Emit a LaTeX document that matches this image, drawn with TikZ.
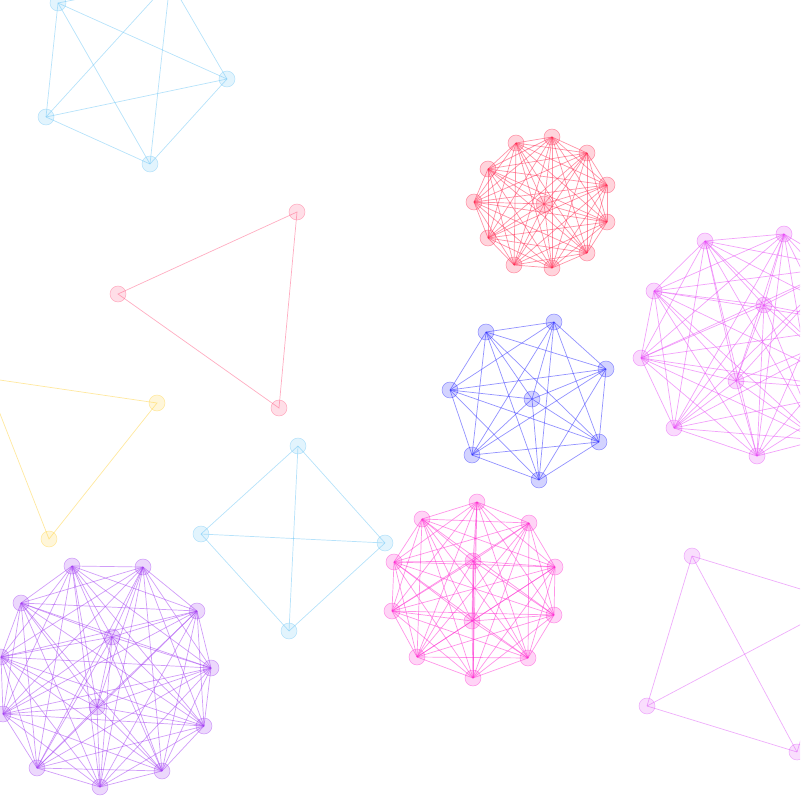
\documentclass[tikz,border=0pt]{standalone}
\usetikzlibrary{calc}

\definecolor{skyc}{HTML}{6EC6F5}
\definecolor{rosec}{HTML}{FF5C85}
\definecolor{goldc}{HTML}{FFD23F}
\definecolor{redc}{HTML}{FF2950}
\definecolor{bluec}{HTML}{2525FF}
\definecolor{violc}{HTML}{E545F5}
\definecolor{pinkc}{HTML}{FF2AD0}
\definecolor{purpc}{HTML}{A23CF2}
\definecolor{lilac}{HTML}{DF5CF7}

\begin{document}
\begin{tikzpicture}[
  x=0.025cm, y=-0.025cm,
  vtx/.style={circle, minimum size=0.4cm, inner sep=0pt, draw=#1, draw opacity=0.45, fill=#1, fill opacity=0.2},
  edg/.style={draw=#1, draw opacity=0.5, line width=0.5pt},
]

\useasboundingbox (0,0) rectangle (800,800);
\clip (0,0) rectangle (800,800);

% K5, light blue, top left
\foreach \p [count=\i] in {(58,3),(170,-19),(227,79),(150,164),(46,117)}
  \node[vtx=skyc] (s\i) at \p {};
\foreach \i in {1,...,4} {
  \pgfmathtruncatemacro\k{\i+1}
  \foreach \j in {\k,...,5} \draw[edg=skyc] (s\i.center) -- (s\j.center);
}

% K3, rose
\foreach \p [count=\i] in {(297,212),(279,408),(118,294)}
  \node[vtx=rosec] (p\i) at \p {};
\draw[edg=rosec] (p1.center) -- (p2.center) -- (p3.center) -- cycle;

% K3, yellow, left edge
\foreach \p [count=\i] in {(-14,378),(157,403),(49,539)}
  \node[vtx=goldc] (y\i) at \p {};
\draw[edg=goldc] (y1.center) -- (y2.center) -- (y3.center) -- cycle;

% K4, light blue, middle
\foreach \p [count=\i] in {(298,446),(385,543),(289,631),(201,534)}
  \node[vtx=skyc] (t\i) at \p {};
\foreach \i in {1,...,3} {
  \pgfmathtruncatemacro\k{\i+1}
  \foreach \j in {\k,...,4} \draw[edg=skyc] (t\i.center) -- (t\j.center);
}

% K12, red
\foreach \p [count=\i] in {(516,143),(552,137),(587,153),(607,185),(607,222),(587,253),
                           (552,268),(514,265),(488,238),(474,202),(488,169),(544,204)}
  \node[vtx=redc] (r\i) at \p {};
\foreach \i in {1,...,11} {
  \pgfmathtruncatemacro\k{\i+1}
  \foreach \j in {\k,...,12} \draw[edg=redc] (r\i.center) -- (r\j.center);
}

% K8, blue
\foreach \p [count=\i] in {(486,332),(554,322),(606,369),(599,442),(539,480),(472,455),
                           (450,390),(532,399)}
  \node[vtx=bluec] (b\i) at \p {};
\foreach \i in {1,...,7} {
  \pgfmathtruncatemacro\k{\i+1}
  \foreach \j in {\k,...,8} \draw[edg=bluec] (b\i.center) -- (b\j.center);
}

% K12, violet, right edge (part of it off the page)
\foreach \p [count=\i] in {(705,241),(784,234),(839,267),(868,325),(861,390),(819,440),
                           (757,456),(674,428),(641,358),(654,291),(764,305),(736,381)}
  \node[vtx=violc] (v\i) at \p {};
\foreach \i in {1,...,11} {
  \pgfmathtruncatemacro\k{\i+1}
  \foreach \j in {\k,...,12} \draw[edg=violc] (v\i.center) -- (v\j.center);
}

% K12, pink
\foreach \p [count=\i] in {(477,502),(529,523),(555,567),(554,615),(528,658),(473,678),
                           (417,657),(392,611),(394,562),(422,519),(473,561),(472,621)}
  \node[vtx=pinkc] (m\i) at \p {};
\foreach \i in {1,...,11} {
  \pgfmathtruncatemacro\k{\i+1}
  \foreach \j in {\k,...,12} \draw[edg=pinkc] (m\i.center) -- (m\j.center);
}

% K13, purple, bottom left
\foreach \p [count=\i] in {(72,566),(143,567),(197,611),(211,668),(204,726),(162,771),
                           (100,787),(37,768),(3,714),(1,657),(21,603),(112,637),(97,707)}
  \node[vtx=purpc] (u\i) at \p {};
\foreach \i in {1,...,12} {
  \pgfmathtruncatemacro\k{\i+1}
  \foreach \j in {\k,...,13} \draw[edg=purpc] (u\i.center) -- (u\j.center);
}

% K4, lilac, bottom right
\foreach \p [count=\i] in {(692,556),(843,602),(797,752),(647,706)}
  \node[vtx=lilac] (w\i) at \p {};
\foreach \i in {1,...,3} {
  \pgfmathtruncatemacro\k{\i+1}
  \foreach \j in {\k,...,4} \draw[edg=lilac] (w\i.center) -- (w\j.center);
}

\end{tikzpicture}
\end{document}
